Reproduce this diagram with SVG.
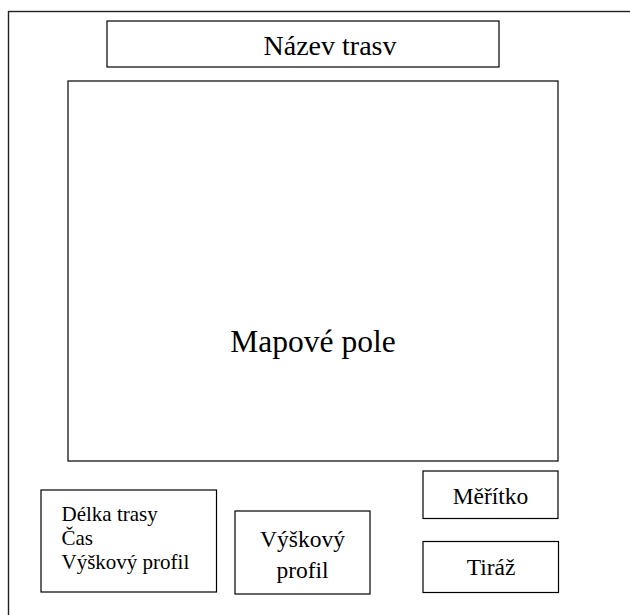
<svg xmlns="http://www.w3.org/2000/svg" width="630" height="615" viewBox="0 0 630 615">
<style>
.box{fill:#fff;stroke:#000;stroke-width:1.2}
text{font-family:'Liberation Serif','Times New Roman',serif;fill:#000}
.c{text-anchor:middle}
</style>
<rect x="0" y="0" width="630" height="615" fill="#fff"/>
<g id="frame"><rect x="8.5" y="11.5" width="700" height="700" fill="none" stroke="#222" stroke-width="1.4"/></g>
<g id="nazev"><rect class="box" x="107" y="21" width="392" height="46"/><text class="c" x="330" y="55" font-size="28">Název trasv</text></g>
<g id="mapove-pole"><rect class="box" x="68" y="81" width="490" height="380"/><text class="c" x="313" y="352" font-size="31.5">Mapové pole</text></g>
<g id="delka"><rect class="box" x="41" y="490" width="175.5" height="102"/><text font-size="21"><tspan x="61.5" y="520.5">Délka trasy</tspan><tspan x="61.5" y="544.5">Čas</tspan><tspan x="61.5" y="568.5">Výškový profil</tspan></text></g>
<g id="vyskovy-profil"><rect class="box" x="235" y="511" width="135" height="83"/><text class="c" font-size="23.5"><tspan x="302.5" y="547">Výškový</tspan><tspan x="302.5" y="578">profil</tspan></text></g>
<g id="meritko"><rect class="box" x="423" y="471" width="135" height="47.5"/><text class="c" x="490.5" y="503.5" font-size="23.5">Měřítko</text></g>
<g id="tiraz"><rect class="box" x="423" y="541.5" width="135.5" height="51"/><text class="c" x="491" y="575" font-size="23.5">Tiráž</text></g>
<g id="connectors"/>
</svg>
